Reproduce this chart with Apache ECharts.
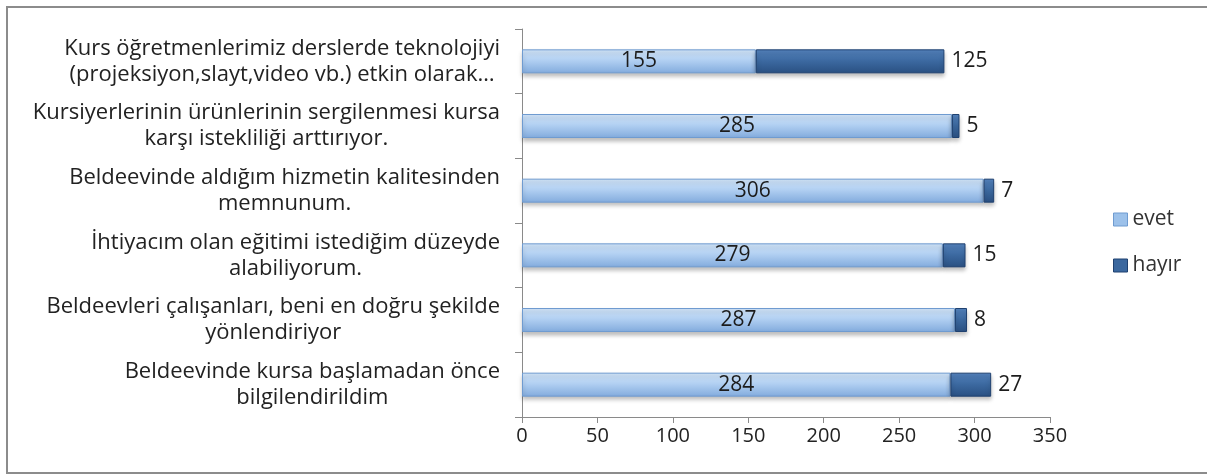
<!DOCTYPE html>
<html>
<head>
<meta charset="utf-8">
<script src="https://cdn.jsdelivr.net/npm/echarts@6/dist/echarts.min.js"></script>
<style>
    html, body { margin: 0; padding: 0; background: #fff; overflow: hidden; }
    .frame { position: absolute; left: 6px; top: 6px; width: 1210px; height: 464px; border: 2px solid #8c8c8c; border-right: none; }
    .chart-main { position: absolute; left: 0; top: 0; width: 1207px; height: 474px; }
</style>
</head>
<body>
<div class="frame"></div>
<div class="chart-main"></div>
<script>
// kategoriler (yukaridan asagiya)
const categories = [
    'Kurs öğretmenlerimiz derslerde teknolojiyi\n(projeksiyon,slayt,video vb.) etkin olarak…',
    'Kursiyerlerinin ürünlerinin sergilenmesi kursa\nkarşı istekliliği arttırıyor.',
    'Beldeevinde aldığım hizmetin kalitesinden\nmemnunum.',
    'İhtiyacım olan eğitimi istediğim düzeyde\nalabiliyorum.',
    'Beldeevleri çalışanları, beni en doğru şekilde\nyönlendiriyor',
    'Beldeevinde kursa başlamadan önce\nbilgilendirildim'
];
const evetValues = [155, 285, 306, 279, 287, 284];
const hayirValues = [125, 5, 7, 15, 8, 27];
const xTicks = [0, 50, 100, 150, 200, 250, 300, 350];

(function () {
    "use strict";

    let myChart = echarts.init(document.querySelector('.chart-main'));
    const font = '"Open Sans", Lato, sans-serif';

    let evetColor = new echarts.graphic.LinearGradient(0, 0, 0, 1, [
        { offset: 0, color: '#d3e6fa' },
        { offset: 0.45, color: '#b2d0f2' },
        { offset: 1, color: '#82abdd' }
    ]);
    let hayirColor = new echarts.graphic.LinearGradient(0, 0, 0, 1, [
        { offset: 0, color: '#5584bf' },
        { offset: 0.5, color: '#3b689f' },
        { offset: 1, color: '#2a5082' }
    ]);

    let option = {
        animation: false,
        textStyle: { fontFamily: font },
        grid: { left: 522, right: 157, top: 29, bottom: 57 },
        legend: {
            orient: 'vertical',
            left: 1108,
            top: 204,
            itemWidth: 14,
            itemHeight: 13,
            itemGap: 25,
            icon: 'rect',
            textStyle: { fontSize: 21, color: '#333', fontFamily: font },
            data: [
                { name: 'evet', itemStyle: { color: '#9cc1ea', borderColor: '#6f9bd0', borderWidth: 1 } },
                { name: 'hayır', itemStyle: { color: '#3b689f', borderColor: '#1f4170', borderWidth: 1 } }
            ]
        },
        xAxis: {
            type: 'value',
            min: xTicks[0],
            max: xTicks[xTicks.length - 1],
            interval: 50,
            axisLine: { show: true, lineStyle: { color: '#8a8a8a', width: 1 } },
            axisTick: { show: true, length: 6, inside: false, lineStyle: { color: '#8a8a8a' } },
            splitLine: { show: false },
            axisLabel: { fontSize: 20, color: '#222', margin: 9, fontFamily: font }
        },
        yAxis: {
            type: 'category',
            inverse: true,
            data: categories,
            axisLine: { show: true, lineStyle: { color: '#8a8a8a', width: 1 } },
            axisTick: { show: true, length: 7, lineStyle: { color: '#8a8a8a' } },
            axisLabel: {
                margin: 22,
                color: '#222',
                fontFamily: font,
                formatter: function (value) {
                    return value.split('\n').map(line => '{a|' + line + '}').join('\n');
                },
                rich: {
                    a: { align: 'center', fontSize: 22, lineHeight: 26, color: '#222', fontFamily: font }
                }
            }
        },
        series: [
            {
                name: 'evet',
                type: 'bar',
                stack: 'toplam',
                barWidth: 24,
                data: evetValues,
                itemStyle: {
                    color: evetColor,
                    borderColor: '#6f9bd0',
                    borderWidth: 1,
                    shadowColor: 'rgba(0,0,0,0.25)',
                    shadowBlur: 4,
                    shadowOffsetY: 3
                },
                label: {
                    show: true,
                    position: 'inside',
                    fontSize: 21,
                    color: '#1c1c1c',
                    fontFamily: font
                }
            },
            {
                name: 'hayır',
                type: 'bar',
                stack: 'toplam',
                barWidth: 24,
                data: hayirValues,
                itemStyle: {
                    color: hayirColor,
                    borderColor: '#1f4170',
                    borderWidth: 1,
                    shadowColor: 'rgba(0,0,0,0.25)',
                    shadowBlur: 4,
                    shadowOffsetY: 3
                },
                label: {
                    show: true,
                    position: 'right',
                    distance: 7,
                    fontSize: 21,
                    color: '#1c1c1c',
                    fontFamily: font
                }
            }
        ]
    };
    myChart.setOption(option);
})();
</script>
</body>
</html>
